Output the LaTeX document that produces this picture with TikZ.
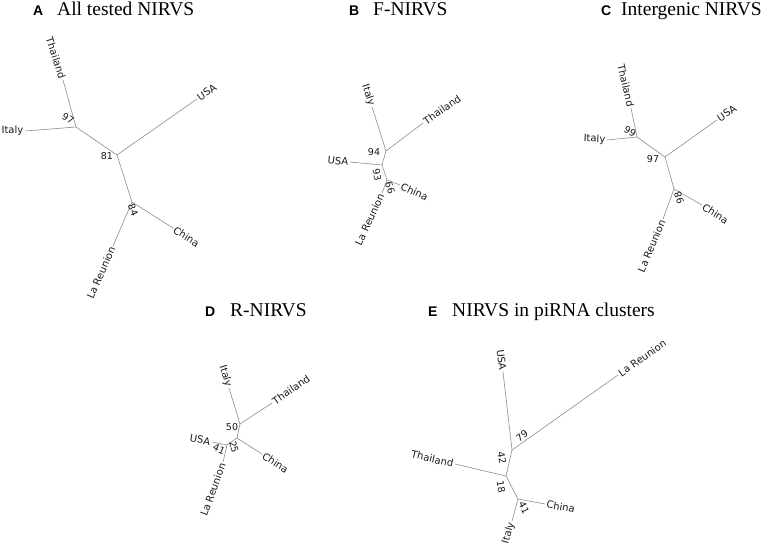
\documentclass[tikz,border=0pt]{standalone}
\usepackage{fontspec}
\setmainfont{Liberation Serif}
\newfontfamily\labfont{DejaVu Sans}
\newfontfamily\panelfont{Liberation Sans}
\definecolor{branchgray}{RGB}{140,140,140}
\definecolor{labtext}{RGB}{25,25,25}
\begin{document}
\begin{tikzpicture}[x=1pt,y=-1pt,
  br/.style={draw=branchgray, line width=0.6pt},
  leaf/.style={font=\labfont\fontsize{10}{12}\selectfont, text=labtext, inner sep=1.5pt},
  bslab/.style={font=\labfont\fontsize{9.5}{11}\selectfont, text=labtext, inner sep=0pt},
  ttl/.style={font=\fontsize{19.5}{22}\selectfont, anchor=base west, inner sep=0pt},
  plet/.style={font=\panelfont\bfseries\fontsize{14}{16}\selectfont, anchor=base west, inner sep=0pt}]
\useasboundingbox (0,0) rectangle (763,552);

% ---------- titles ----------
\node[plet] (pA) at (33,15) {A};  \node[ttl] (tA) at (57,15) {All tested NIRVS};
\node[plet] (pB) at (349,15) {B}; \node[ttl] (tB) at (373,15) {F-NIRVS};
\node[plet] (pC) at (601,15) {C}; \node[ttl] (tC) at (621,15) {Intergenic NIRVS};
\node[plet] (pD) at (205,316) {D}; \node[ttl] (tD) at (230,316) {R-NIRVS};
\node[plet] (pE) at (428,316) {E}; \node[ttl] (tE) at (452,316) {NIRVS in piRNA clusters};

% ---------- panel A ----------
\coordinate (A97) at (76,127);
\coordinate (A81) at (117,155);
\coordinate (A84) at (132,202);
\coordinate (AT) at (63,80);
\coordinate (AI) at (25,131);
\coordinate (AU) at (197,99);
\coordinate (AC) at (173,228);
\coordinate (AL) at (113,246);
\draw[br] (A97) -- (AT);
\draw[br] (A97) -- (AI);
\draw[br] (A97) -- (A81);
\draw[br] (A81) -- (AU);
\draw[br] (A81) -- (A84);
\draw[br] (A84) -- (AC);
\draw[br] (A84) -- (AL);
\node[leaf, rotate=-72, anchor=east] (lAT) at (AT) {Thailand};
\node[leaf, anchor=east] (lAI) at (AI) {Italy};
\node[leaf, rotate=35, anchor=west] (lAU) at (AU) {USA};
\node[leaf, rotate=-33, anchor=west] (lAC) at (AC) {China};
\node[leaf, rotate=66, anchor=east] (lAL) at (AL) {La Reunion};
\node[bslab, rotate=-30] (sA97) at (68,119) {97};
\node[bslab] (sA81) at (107,156) {81};
\node[bslab, rotate=-68] (sA84) at (133,210) {84};

% ---------- panel B ----------
\coordinate (B94) at (386,151);
\coordinate (B93) at (382,165);
\coordinate (B99) at (387,180);
\coordinate (BI) at (372,107);
\coordinate (BT) at (423,123);
\coordinate (BU) at (350,162);
\coordinate (BC) at (400,185);
\coordinate (BL) at (382,193);
\draw[br] (B94) -- (BI);
\draw[br] (B94) -- (BT);
\draw[br] (B94) -- (B93);
\draw[br] (B93) -- (BU);
\draw[br] (B93) -- (B99);
\draw[br] (B99) -- (BC);
\draw[br] (B99) -- (BL);
\node[leaf, rotate=-72, anchor=east] (lBI) at (BI) {Italy};
\node[leaf, rotate=35, anchor=west] (lBT) at (BT) {Thailand};
\node[leaf, rotate=-6, anchor=east] (lBU) at (BU) {USA};
\node[leaf, rotate=-25, anchor=west] (lBC) at (BC) {China};
\node[leaf, rotate=65, anchor=east] (lBL) at (BL) {La Reunion};
\node[bslab] (sB94) at (374,152) {94};
\node[bslab, rotate=-80] (sB93) at (377,175) {93};
\node[bslab, rotate=110] (sB99) at (390,188) {99};

% ---------- panel C ----------
\coordinate (C99) at (637,137);
\coordinate (C97) at (665,157);
\coordinate (C98) at (674,189);
\coordinate (CT) at (631,108);
\coordinate (CI) at (607,140);
\coordinate (CU) at (717,120);
\coordinate (CC) at (702,205);
\coordinate (CL) at (663,219);
\draw[br] (C99) -- (CT);
\draw[br] (C99) -- (CI);
\draw[br] (C99) -- (C97);
\draw[br] (C97) -- (CU);
\draw[br] (C97) -- (C98);
\draw[br] (C98) -- (CC);
\draw[br] (C98) -- (CL);
\node[leaf, rotate=-77, anchor=east] (lCT) at (CT) {Thailand};
\node[leaf, rotate=-3, anchor=east] (lCI) at (CI) {Italy};
\node[leaf, rotate=35, anchor=west] (lCU) at (CU) {USA};
\node[leaf, rotate=-33, anchor=west] (lCC) at (CC) {China};
\node[leaf, rotate=67, anchor=east] (lCL) at (CL) {La Reunion};
\node[bslab, rotate=-30] (sC99) at (630,132) {99};
\node[bslab] (sC97) at (653,159) {97};
\node[bslab, rotate=110] (sC98) at (679,198) {98};

% ---------- panel D ----------
\coordinate (D50) at (240,424);
\coordinate (D25) at (237,438);
\coordinate (D41) at (227,445);
\coordinate (DI) at (229,388);
\coordinate (DT) at (272,403);
\coordinate (DC) at (262,454);
\coordinate (DU) at (212,442);
\coordinate (DL) at (223,462);
\draw[br] (D50) -- (DI);
\draw[br] (D50) -- (DT);
\draw[br] (D50) -- (D25);
\draw[br] (D25) -- (DC);
\draw[br] (D25) -- (D41);
\draw[br] (D41) -- (DU);
\draw[br] (D41) -- (DL);
\node[leaf, rotate=-73, anchor=east] (lDI) at (DI) {Italy};
\node[leaf, rotate=35, anchor=west] (lDT) at (DT) {Thailand};
\node[leaf, rotate=-33, anchor=west] (lDC) at (DC) {China};
\node[leaf, rotate=-10, anchor=east] (lDU) at (DU) {USA};
\node[leaf, rotate=70, anchor=east] (lDL) at (DL) {La Reunion};
\node[bslab] (sD50) at (232,427) {50};
\node[bslab, rotate=-75] (sD25) at (234,447) {25};
\node[bslab, rotate=-25] (sD41) at (219,449) {41};

% ---------- panel E ----------
\coordinate (E42) at (512,450);
\coordinate (E18) at (506,476);
\coordinate (E41) at (518,499);
\coordinate (EU) at (503,372);
\coordinate (EL) at (618,375);
\coordinate (ET) at (455,464);
\coordinate (EC) at (545,504);
\coordinate (EI) at (512,521);
\draw[br] (E42) -- (EU);
\draw[br] (E42) -- (EL);
\draw[br] (E42) -- (E18);
\draw[br] (E18) -- (ET);
\draw[br] (E18) -- (E41);
\draw[br] (E41) -- (EC);
\draw[br] (E41) -- (EI);
\node[leaf, rotate=-83, anchor=east] (lEU) at (EU) {USA};
\node[leaf, rotate=35, anchor=west] (lEL) at (EL) {La Reunion};
\node[leaf, rotate=-13, anchor=east] (lET) at (ET) {Thailand};
\node[leaf, rotate=-10, anchor=west] (lEC) at (EC) {China};
\node[leaf, rotate=74, anchor=east] (lEI) at (EI) {Italy};
\node[bslab, rotate=35] (sE79) at (522,436) {79};
\node[bslab, rotate=-80] (sE42) at (502,458) {42};
\node[bslab, rotate=-80] (sE18) at (501,487) {18};
\node[bslab, rotate=-65] (sE41) at (524,508) {41};
\end{tikzpicture}
\end{document}
